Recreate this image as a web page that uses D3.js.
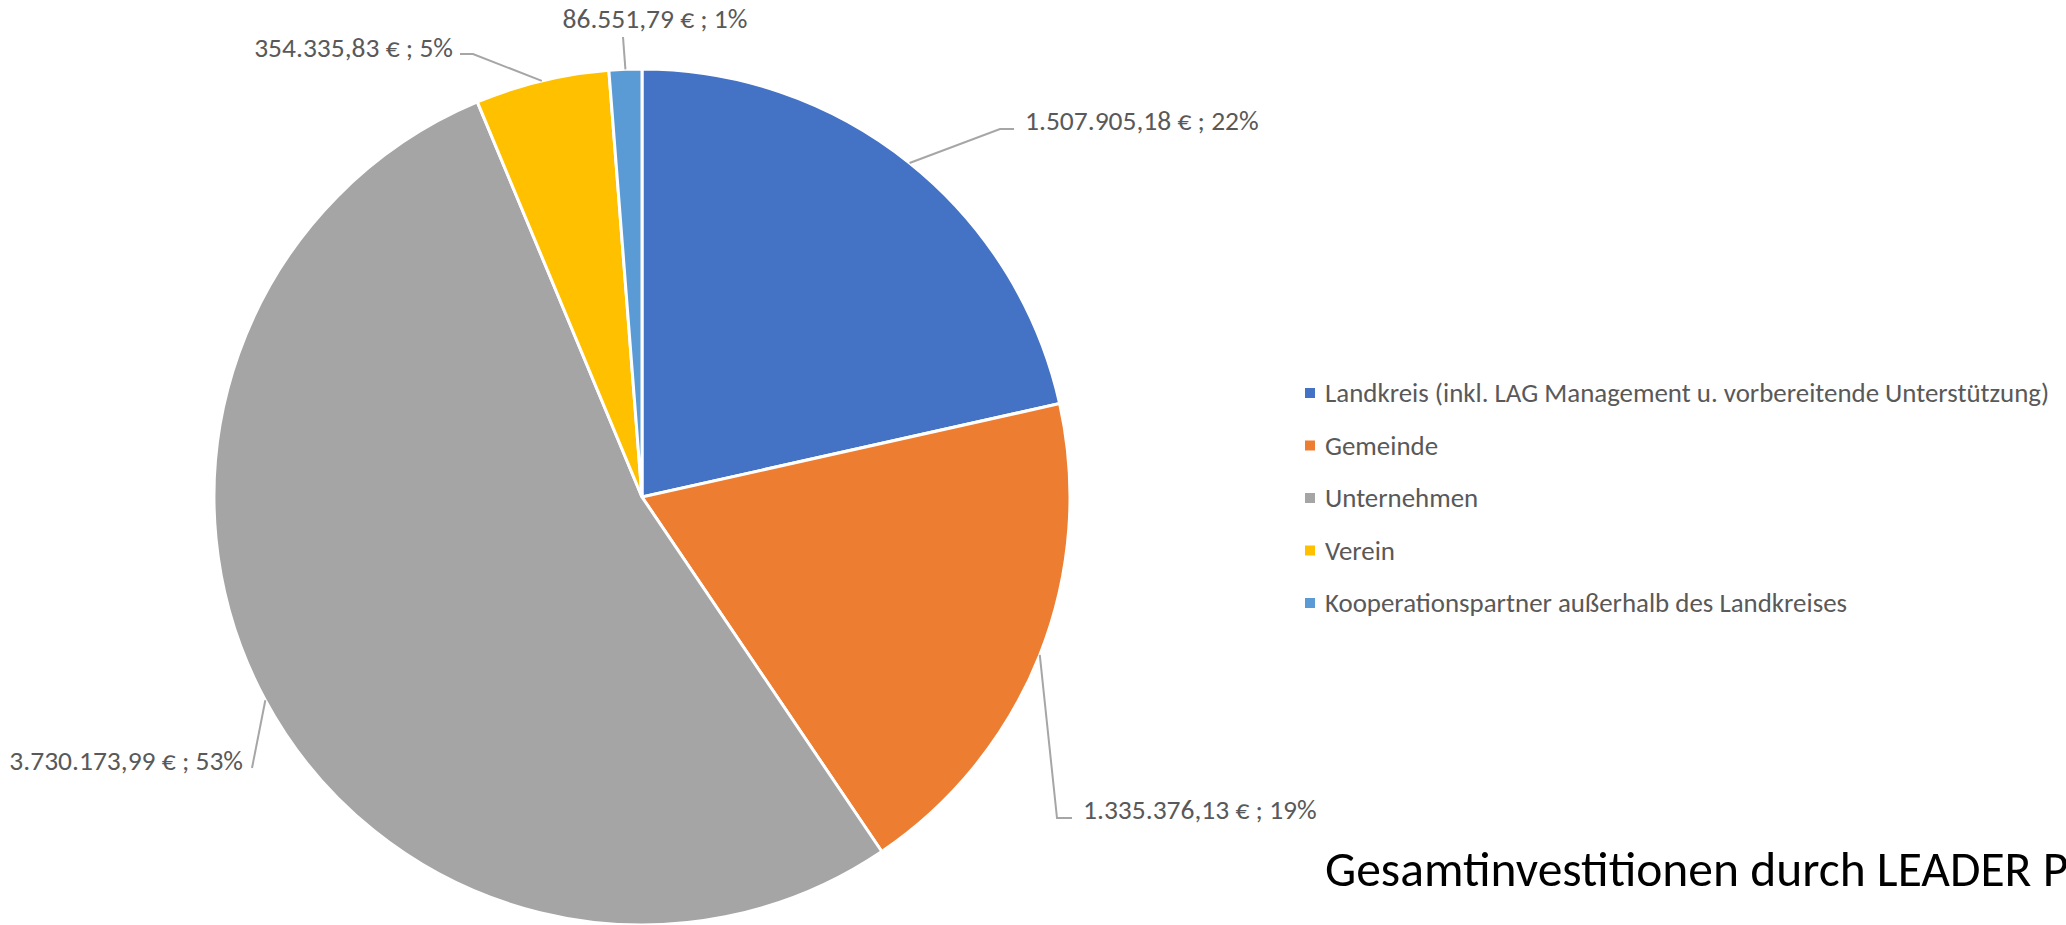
<!DOCTYPE html>
<html>
<head>
<meta charset="utf-8">
<script src="https://cdn.jsdelivr.net/npm/d3@7"></script>
<style>
  body { margin: 0; background: #fff; overflow: hidden; }
  svg { display: block; }
  text { font-family: Carlito, Calibri, "Open Sans", sans-serif; }
</style>
</head>
<body>
<svg id="chart" width="2066" height="925"></svg>
<script>
// categories + investment sums (EUR)
var categories = [
  "Landkreis (inkl. LAG Management u. vorbereitende Unterstützung)",
  "Gemeinde",
  "Unternehmen",
  "Verein",
  "Kooperationspartner außerhalb des Landkreises"
];
var values = [1507905.18, 1335376.13, 3730173.99, 354335.83, 86551.79];
var colors = ["#4472C4", "#ED7D31", "#A5A5A5", "#FFC000", "#5B9BD5"];
var title = "Gesamtinvestitionen durch LEADER Projekte";

// where each data label sits (elbow of leader, relative to pie centre)
var labelSpots = [
  {ex: 358, ey: -368, tail: 14, anchor: "start", tx: 11, ty: 1},
  {ex: 415, ey: 321, tail: 15, anchor: "start", tx: 11, ty: 1},
  {ex: -390, ey: 271, tail: 0, anchor: "end", tx: -9, ty: 2},
  {ex: -169, ey: -443, tail: -13, anchor: "end", tx: -7, ty: 3},
  {ex: -19, ey: -460, tail: 0, anchor: "middle", tx: 32, ty: -9}
];

var de = d3.formatLocale({decimal: ",", thousands: ".", grouping: [3], currency: ["", " €"]});
var money = de.format(",.2f");
var total = d3.sum(values);

// Excel style: whole percents that add up to 100 (largest remainder)
var raw = values.map(function(v) { return v / total * 100; });
var pcts = raw.map(Math.floor);
var left = 100 - d3.sum(pcts);
d3.range(raw.length)
  .sort(function(a, b) { return (raw[b] - pcts[b]) - (raw[a] - pcts[a]); })
  .slice(0, left)
  .forEach(function(i) { pcts[i] ++; });

var svg = d3.select("#chart");
var cx = 642, cy = 497, r = 428;

var data = values.map(function(v, i) {
  return {name: categories[i], value: v, pct: pcts[i], color: colors[i], spot: labelSpots[i]};
});

var pie = d3.pie().sort(null).value(function(d) { return d.value; });
var arc = d3.arc().innerRadius(0).outerRadius(r);
var rim = d3.arc().innerRadius(r).outerRadius(r);

var g = svg.append("g").attr("transform", "translate(" + cx + "," + cy + ")");
var slices = pie(data);

g.selectAll("path.slice")
  .data(slices)
  .enter().append("path")
  .attr("class", "slice")
  .attr("d", arc)
  .style("fill", function(d) { return d.data.color; })
  .style("stroke", "#fff")
  .style("stroke-width", 3);

// leader lines
g.selectAll("path.leader")
  .data(slices)
  .enter().append("path")
  .attr("class", "leader")
  .attr("d", function(d) {
    var p = rim.centroid(d);
    var s = d.data.spot;
    return "M" + p[0] + "," + p[1] + "L" + s.ex + "," + s.ey + "L" + (s.ex + s.tail) + "," + s.ey;
  })
  .style("fill", "none")
  .style("stroke", "#A6A6A6")
  .style("stroke-width", 2);

g.selectAll("text.lbl")
  .data(slices)
  .enter().append("text")
  .attr("class", "lbl")
  .attr("x", function(d) { return d.data.spot.ex + d.data.spot.tail + d.data.spot.tx; })
  .attr("y", function(d) { return d.data.spot.ey + d.data.spot.ty; })
  .attr("text-anchor", function(d) { return d.data.spot.anchor; })
  .style("font-size", "27.5px")
  .style("fill", "#595959")
  .text(function(d) {
    return money(d.data.value) + " € ; " + d.data.pct + "%";
  });

// legend
var legY = d3.scalePoint().domain(categories).range([393, 603]);
var leg = svg.append("g").selectAll("g")
  .data(data)
  .enter().append("g")
  .attr("transform", function(d) { return "translate(1305," + legY(d.name) + ")"; });

leg.append("rect")
  .attr("x", 0).attr("y", -5)
  .attr("width", 10).attr("height", 10)
  .style("fill", function(d) { return d.color; });

leg.append("text")
  .attr("x", 20).attr("y", 0)
  .attr("dy", "0.35em")
  .style("font-size", "26.9px")
  .style("fill", "#595959")
  .text(function(d) { return d.name; });

svg.append("text")
  .attr("x", 1325).attr("y", 886)
  .style("font-size", "49.5px")
  .style("fill", "#000")
  .text(title);
</script>
</body>
</html>
